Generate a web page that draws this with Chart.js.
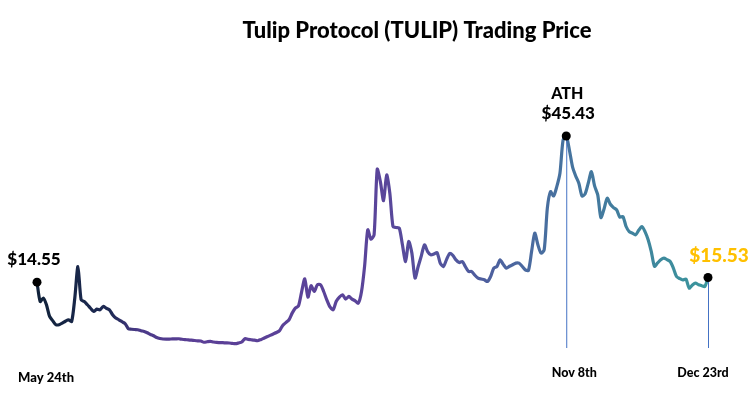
<!DOCTYPE html>
<html>
<head>
<meta charset="utf-8">
<script src="https://cdn.jsdelivr.net/npm/chart.js@4.4.1/dist/chart.umd.min.js"></script>
<style>
  body { margin: 0; background: #fff; }
  #wrap { width: 752px; height: 402px; position: relative; }
</style>
</head>
<body>
<div id="wrap"><canvas id="tulipChart"></canvas></div>
<script>
const chartTitle = 'Tulip Protocol (TULIP) Trading Price';
const startDate = new Date(2021, 4, 24);

// daily closing price, May 24th -> Dec 23rd
const prices = [
  14.55, 10.46, 11.18, 9.77, 7.30, 6.39, 5.55, 5.55, 5.91, 6.29,
  6.60, 6.24, 11.2, 17.85, 10.82, 10.46, 9.77, 9.03, 8.35, 8.86,
  8.71, 9.41, 9.03, 8.71, 7.66, 6.96, 6.60, 6.18, 5.76, 4.70,
  4.60, 4.54, 4.49, 4.28, 4.14, 3.86, 3.50, 3.23, 2.85, 2.65,
  2.53, 2.50, 2.52, 2.55, 2.57, 2.59, 2.48, 2.40, 2.36, 2.30,
  2.22, 2.15, 2.11, 1.85, 1.95, 2.03, 1.90, 1.81, 1.78, 1.75,
  1.72, 1.69, 1.60, 1.54, 1.70, 1.90, 2.59, 2.45, 2.38, 2.30,
  2.17, 2.40, 2.70, 3.00, 3.30, 3.60, 3.90, 4.30, 5.40, 6.00,
  6.60, 8.00, 9.07, 9.50, 12.5, 15.25, 11.39, 13.78, 12.57, 13.99,
  13.99, 12.57, 10.8, 9.3, 8.71, 10.5, 11.39, 11.88, 10.97, 11.52,
  10.97, 10.6, 10.1, 12.5, 18.0, 25.59, 23.63, 24.54, 38.40, 35.78,
  31.77, 37.19, 33.33, 26.29, 26.1, 25.95, 22.43, 18.90, 23.12, 20.68,
  15.40, 17.85, 20.1, 22.43, 21.01, 20.32, 20.5, 20.80, 18.57, 17.85,
  19.3, 20.6, 20.2, 19.26, 18.69, 18.90, 17.8, 16.79, 16.79, 16.0,
  15.40, 15.2, 15.04, 14.68, 15.74, 17.51, 17.85, 19.26, 18.3, 17.51,
  17.9, 18.21, 18.57, 18.57, 17.9, 17.15, 17.0, 21.0, 24.89, 22.43,
  20.68, 21.37, 30.17, 33.67, 32.76, 34.73, 37.55, 44.58, 45.43, 42.47,
  38.9, 36.98, 35.44, 32.76, 33.19, 35.5, 37.89, 34.87, 32.97, 28.19,
  30.0, 32.28, 31.0, 30.3, 29.81, 28.3, 28.40, 26.3, 25.23, 24.9,
  24.54, 25.5, 26.29, 25.23, 23.5, 21.0, 17.9, 18.6, 19.26, 19.62,
  19.3, 18.90, 17.51, 15.74, 15.3, 15.0, 15.19, 13.29, 13.9, 14.35,
  14.0, 13.8, 13.63, 15.53
];

const dates = prices.map((_, i) => {
  const d = new Date(startDate);
  d.setDate(d.getDate() + i);
  return d.toISOString().slice(0, 10);
});

// marked days: first price, all time high, last price
const markIndex = [0, 168, 213];
const markDates = ['May 24th', 'Nov 8th', 'Dec 23rd'];

const FONT = 'Lato, "Open Sans", sans-serif';

function lineGradient(context) {
  const chart = context.chart;
  const area = chart.chartArea;
  if (!area) return '#5b3f96';
  const g = chart.ctx.createLinearGradient(area.left, 0, area.right, 0);
  g.addColorStop(0, '#10223a');
  g.addColorStop(0.11, '#1f2a55');
  g.addColorStop(0.15, '#4a3a88');
  g.addColorStop(0.24, '#5b3f96');
  g.addColorStop(0.51, '#5a459a');
  g.addColorStop(0.62, '#51569d');
  g.addColorStop(0.73, '#4a6a9f');
  g.addColorStop(0.84, '#437a9e');
  g.addColorStop(1, '#3a969c');
  return g;
}

const markers = {
  id: 'markers',
  afterDatasetsDraw(chart) {
    const ctx = chart.ctx;
    const x = chart.scales.x;
    const y = chart.scales.y;
    const lineEnd = 348;

    ctx.save();
    // title
    ctx.fillStyle = '#000';
    ctx.textAlign = 'center';
    ctx.textBaseline = 'alphabetic';
    ctx.font = '900 22px ' + FONT;
    ctx.fillText(chartTitle, 417, 38);

    markIndex.forEach((idx, n) => {
      const px = x.getPixelForValue(idx);
      const py = y.getPixelForValue(prices[idx]);
      const label = '$' + prices[idx].toFixed(2);

      if (n > 0) {
        ctx.strokeStyle = '#4472c4';
        ctx.lineWidth = 1;
        ctx.beginPath();
        ctx.moveTo(px + 0.5, py);
        ctx.lineTo(px + 0.5, lineEnd);
        ctx.stroke();
      }

      ctx.fillStyle = '#000';
      ctx.beginPath();
      ctx.arc(px, py, 4.5, 0, Math.PI * 2);
      ctx.fill();

      ctx.textAlign = 'center';
      if (n === 0) {
        ctx.font = '900 17px ' + FONT;
        ctx.fillText(label, px - 3, py - 17);
        ctx.font = '900 13px ' + FONT;
        ctx.fillText(markDates[n], px + 9, 382);
      } else if (n === 1) {
        ctx.font = '900 16px ' + FONT;
        ctx.fillText('ATH', px + 1, py - 37);
        ctx.font = '900 17px ' + FONT;
        ctx.fillText(label, px + 2, py - 17);
        ctx.font = '900 12.5px ' + FONT;
        ctx.fillText(markDates[n], px + 8, 377);
      } else {
        ctx.fillStyle = '#ffc000';
        ctx.font = '900 19px ' + FONT;
        ctx.fillText(label, px + 11, py - 15);
        ctx.fillStyle = '#000';
        ctx.font = '900 12.5px ' + FONT;
        ctx.fillText(markDates[n], px - 5, 377);
      }
    });
    ctx.restore();
  }
};

new Chart(document.getElementById('tulipChart'), {
  type: 'line',
  data: {
    labels: dates,
    datasets: [{
      data: prices,
      borderColor: lineGradient,
      borderWidth: 3.2,
      pointRadius: 0,
      tension: 0.25,
      fill: false
    }]
  },
  plugins: [markers],
  options: {
    responsive: true,
    maintainAspectRatio: false,
    animation: false,
    layout: { padding: { left: 37, right: 44, top: 40, bottom: 51 } },
    scales: {
      x: { display: false, offset: false },
      y: { display: false, min: 0, max: 65.7 }
    },
    plugins: {
      legend: { display: false },
      tooltip: { enabled: false }
    }
  }
});
</script>
</body>
</html>
